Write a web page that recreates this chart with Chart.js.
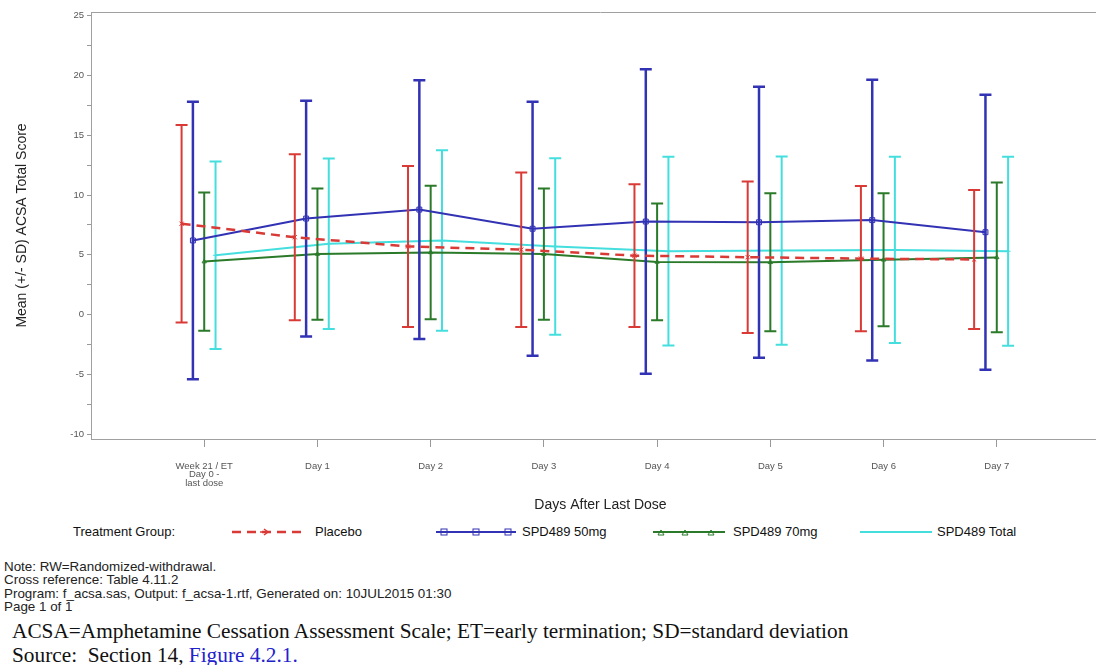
<!DOCTYPE html>
<html><head><meta charset="utf-8">
<script src="https://cdn.jsdelivr.net/npm/chart.js@4/dist/chart.umd.min.js"></script>
<style>
html,body{margin:0;padding:0;background:#fff;overflow:hidden;width:1096px;height:665px;}
#wrap{position:absolute;left:0;top:0;width:1115px;height:520px;}
.leg{position:absolute;top:524px;font:13px "Liberation Sans",Arial,sans-serif;color:#111;line-height:16px;white-space:nowrap;}
.legsvg{position:absolute;top:524px;height:16px;}
#notes{position:absolute;left:4px;top:560px;font:13.4px "Liberation Sans",Arial,sans-serif;color:#222;line-height:13.3px;white-space:nowrap;}
#src{position:absolute;left:12px;top:619px;font:21.3px "Liberation Serif","Times New Roman",serif;color:#111;line-height:24px;white-space:nowrap;}
#src a{color:#2222cc;text-decoration:none;}
</style>
</head><body>
<div id="wrap"><canvas id="c" width="1115" height="520"></canvas></div>

<div class="leg" style="left:73px">Treatment Group:</div>
<svg class="legsvg" style="left:228px" width="80" height="16">
  <line x1="4" y1="8" x2="74" y2="8" stroke="#d93a36" stroke-width="2.5" stroke-dasharray="9,6"/>
  <path d="M36 5 L40 8 L36 11 M40 8 L32 8" stroke="#d93a36" stroke-width="1.5" fill="none"/>
</svg>
<div class="leg" style="left:315px">Placebo</div>
<svg class="legsvg" style="left:432px" width="90" height="16">
  <line x1="4" y1="8" x2="84" y2="8" stroke="#3232b4" stroke-width="2"/>
  <rect x="9" y="5" width="6" height="6" stroke="#3232b4" fill="none" stroke-width="1"/>
  <rect x="41" y="5" width="6" height="6" stroke="#3232b4" fill="none" stroke-width="1"/>
  <rect x="73" y="5" width="6" height="6" stroke="#3232b4" fill="none" stroke-width="1"/>
</svg>
<div class="leg" style="left:522px">SPD489 50mg</div>
<svg class="legsvg" style="left:650px" width="80" height="16">
  <line x1="3" y1="8" x2="75" y2="8" stroke="#2a7a2a" stroke-width="2"/>
  <path d="M11 6 L14 11 L8 11 Z M35 6 L38 11 L32 11 Z M61 6 L64 11 L58 11 Z" stroke="#2a7a2a" fill="none" stroke-width="1"/>
</svg>
<div class="leg" style="left:733px">SPD489 70mg</div>
<svg class="legsvg" style="left:857px" width="80" height="16">
  <line x1="3" y1="8" x2="75" y2="8" stroke="#45dede" stroke-width="2"/>
</svg>
<div class="leg" style="left:937px">SPD489 Total</div>

<div id="notes">Note: RW=Randomized-withdrawal.<br>Cross reference: Table 4.11.2<br>Program: f_acsa.sas, Output: f_acsa-1.rtf, Generated on: 10JUL2015 01:30<br>Page 1 of 1</div>
<div id="src">ACSA=Amphetamine Cessation Assessment Scale; ET=early termination; SD=standard deviation<br>Source:&nbsp; Section 14, <a>Figure 4.2.1.</a></div>

<script>
// ---- data ----
const categories = [["Week 21 / ET", "Day 0 -", "last dose"], "Day 1", "Day 2", "Day 3", "Day 4", "Day 5", "Day 6", "Day 7"];
const seriesNames = ["Placebo", "SPD489 50mg", "SPD489 70mg", "SPD489 Total"];
const placeboMean = [7.6, 6.47, 5.7, 5.43, 4.93, 4.8, 4.68, 4.61];
const placeboSD   = [8.26, 6.94, 6.73, 6.46, 5.97, 6.33, 6.08, 5.81];
const spd50Mean   = [6.2, 8.03, 8.78, 7.18, 7.78, 7.72, 7.9, 6.89];
const spd50SD     = [11.6, 9.86, 10.82, 10.62, 12.73, 11.33, 11.74, 11.5];
const spd70Mean   = [4.43, 5.06, 5.2, 5.06, 4.4, 4.37, 4.58, 4.78];
const spd70SD     = [5.77, 5.48, 5.58, 5.48, 4.88, 5.77, 5.56, 6.26];
const totalMean   = [4.96, 5.93, 6.2, 5.7, 5.3, 5.35, 5.41, 5.3];
const totalSD     = [7.84, 7.13, 7.55, 7.38, 7.89, 7.86, 7.79, 7.9];
const yTickLabels = ["-10", "-5", "0", "5", "10", "15", "20", "25"];

// ---- styles ----
const styles = [
  {mean: placeboMean, sd: placeboSD, color: '#d93a36', offset: -0.2, dash: [9, 6], width: 2.5, errW: 2, pointStyle: 'crossRot', pr: 3, bg: 'rgba(0,0,0,0)'},
  {mean: spd50Mean, sd: spd50SD, color: '#3232b4', offset: -0.1, dash: [], width: 2, errW: 2.5, pointStyle: 'rect', pr: 3.5, bg: 'rgba(50,50,180,0.2)'},
  {mean: spd70Mean, sd: spd70SD, color: '#2a7a2a', offset: 0, dash: [], width: 2, errW: 2, pointStyle: 'triangle', pr: 2.5, bg: 'rgba(0,0,0,0)'},
  {mean: totalMean, sd: totalSD, color: '#45dede', offset: 0.1, dash: [], width: 2, errW: 2, pointStyle: 'cross', pr: 2.5, bg: 'rgba(0,0,0,0)'}
];

const datasets = styles.map((s, k) => ({
  label: seriesNames[k],
  data: s.mean.map((m, i) => ({x: i + s.offset, y: m})),
  sd: s.sd,
  borderColor: s.color,
  backgroundColor: s.bg,
  borderWidth: s.width,
  borderDash: s.dash,
  errW: s.errW,
  pointStyle: s.pointStyle,
  pointRadius: s.pr,
  pointBorderWidth: 1,
  pointBorderColor: s.color,
  pointBackgroundColor: s.bg,
  tension: 0,
  fill: false
}));

const errorBars = {
  id: 'errorBars',
  afterDatasetDraw(chart, args) {
    const ds = chart.data.datasets[args.index];
    const xs = chart.scales.x, ys = chart.scales.y, c = chart.ctx;
    c.save();
    c.strokeStyle = ds.borderColor;
    c.lineWidth = ds.errW;
    c.setLineDash([]);
    ds.data.forEach((p, i) => {
      const px = xs.getPixelForValue(p.x);
      const t = ys.getPixelForValue(p.y + ds.sd[i]);
      const b = ys.getPixelForValue(p.y - ds.sd[i]);
      c.beginPath();
      c.moveTo(px, t); c.lineTo(px, b);
      c.moveTo(px - 6, t); c.lineTo(px + 6, t);
      c.moveTo(px - 6, b); c.lineTo(px + 6, b);
      c.stroke();
    });
    c.restore();
  }
};

const topBorder = {
  id: 'topBorder',
  afterDraw(chart) {
    const a = chart.chartArea, c = chart.ctx;
    c.save();
    c.strokeStyle = '#a0a0a0';
    c.lineWidth = 1;
    c.beginPath();
    c.moveTo(a.left, a.top + 0.5);
    c.lineTo(a.right, a.top + 0.5);
    c.stroke();
    c.restore();
  }
};

new Chart(document.getElementById('c'), {
  type: 'line',
  data: {datasets},
  plugins: [errorBars, topBorder],
  options: {
    responsive: false,
    animation: false,
    layout: {padding: {left: 0, right: 4, top: 12, bottom: 6}},
    plugins: {legend: {display: false}, tooltip: {enabled: false}},
    scales: {
      x: {
        type: 'linear', min: -1, max: 8,
        afterBuildTicks: s => { s.ticks = categories.map((_, i) => ({value: i})); },
        afterFit: s => { s.height = 75; },
        grid: {drawOnChartArea: false, drawTicks: true, tickLength: 8, color: '#999'},
        border: {display: true, color: '#a0a0a0', width: 1},
        ticks: {
          autoSkip: false, maxRotation: 0, padding: 15, color: '#555',
          font: {family: 'Liberation Sans, Arial, sans-serif', size: 9.5, lineHeight: 0.9},
          callback: v => categories[v]
        },
        title: {
          display: true, text: 'Days After Last Dose', color: '#222',
          font: {family: 'Liberation Sans, Arial, sans-serif', size: 14},
          padding: {top: 0, bottom: 0}
        }
      },
      y: {
        min: -10.4, max: 25.3,
        afterBuildTicks: s => {
          const t = [];
          for (let v = -10; v <= 25; v += 2.5) t.push({value: v});
          s.ticks = t;
        },
        afterFit: s => { s.width = 91; },
        grid: {drawOnChartArea: false, drawTicks: true, tickLength: 4, color: '#999'},
        border: {display: true, color: '#a0a0a0', width: 1},
        ticks: {
          padding: 3, color: '#555',
          font: {family: 'Liberation Sans, Arial, sans-serif', size: 9.5},
          callback: v => (v % 5 === 0 ? yTickLabels[(v + 10) / 5] : '')
        },
        title: {
          display: true, text: 'Mean (+/- SD) ACSA Total Score', color: '#222',
          font: {family: 'Liberation Sans, Arial, sans-serif', size: 14},
          padding: {top: 14}
        }
      }
    }
  }
});
</script>
</body></html>
